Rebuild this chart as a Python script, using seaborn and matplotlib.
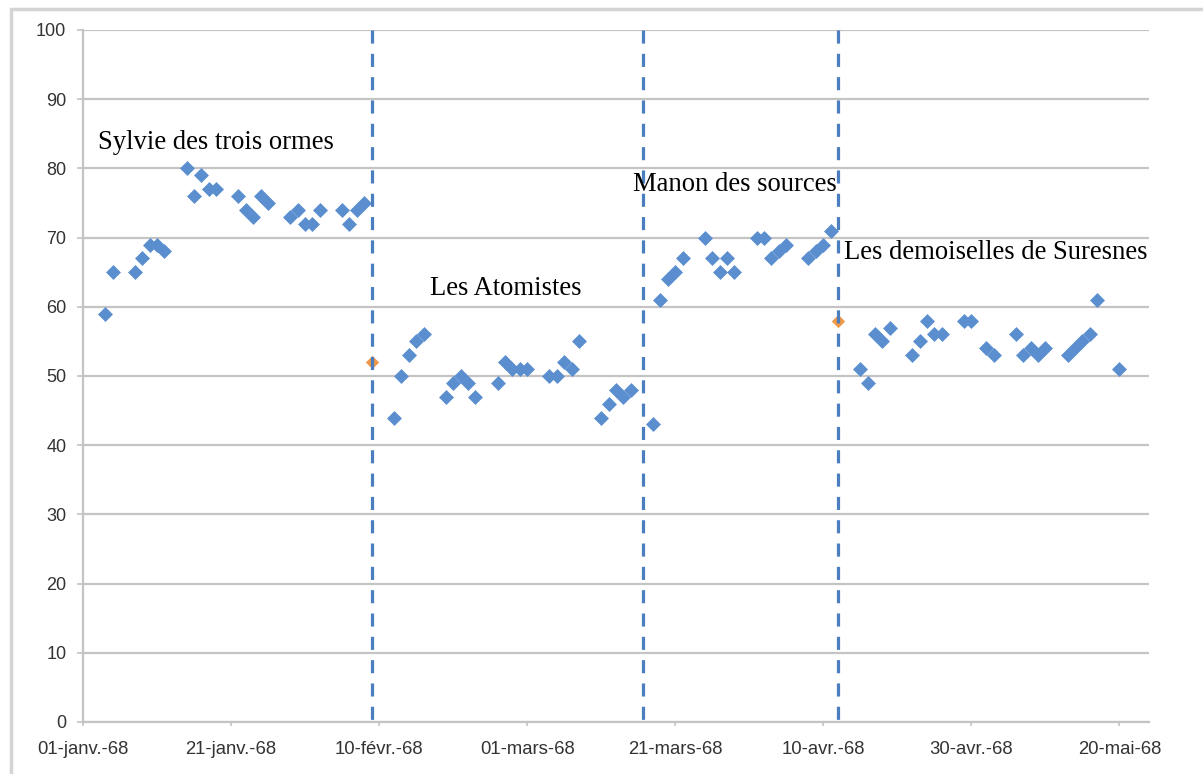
import pandas as pd
import numpy as np
import matplotlib
matplotlib.use('Agg')
import matplotlib.pyplot as plt
import seaborn as sns
from matplotlib.patches import Rectangle

# daily scores per film (weekdays)
sylvie_dates = ['1968-01-04', '1968-01-05', '1968-01-08', '1968-01-09', '1968-01-10', '1968-01-11',
                '1968-01-12', '1968-01-15', '1968-01-16', '1968-01-17', '1968-01-18', '1968-01-19',
                '1968-01-22', '1968-01-23', '1968-01-24', '1968-01-25', '1968-01-26', '1968-01-29',
                '1968-01-30', '1968-01-31', '1968-02-01', '1968-02-02', '1968-02-05', '1968-02-06',
                '1968-02-07', '1968-02-08']
sylvie_scores = [59, 65, 65, 67, 69, 69, 68, 80, 76, 79, 77, 77, 76, 74, 73, 76, 75, 73, 74, 72,
                 72, 74, 74, 72, 74, 75]

atomistes_dates = ['1968-02-12', '1968-02-13', '1968-02-14', '1968-02-15', '1968-02-16', '1968-02-19',
                   '1968-02-20', '1968-02-21', '1968-02-22', '1968-02-23', '1968-02-26', '1968-02-27',
                   '1968-02-28', '1968-02-29', '1968-03-01', '1968-03-04', '1968-03-05', '1968-03-06',
                   '1968-03-07', '1968-03-08', '1968-03-11', '1968-03-12', '1968-03-13', '1968-03-14',
                   '1968-03-15']
atomistes_scores = [44, 50, 53, 55, 56, 47, 49, 50, 49, 47, 49, 52, 51, 51, 51, 50, 50, 52, 51, 55,
                    44, 46, 48, 47, 48]

manon_dates = ['1968-03-18', '1968-03-19', '1968-03-20', '1968-03-21', '1968-03-22', '1968-03-25',
               '1968-03-26', '1968-03-27', '1968-03-28', '1968-03-29', '1968-04-01', '1968-04-02',
               '1968-04-03', '1968-04-04', '1968-04-05', '1968-04-08', '1968-04-09', '1968-04-10',
               '1968-04-11']
manon_scores = [43, 61, 64, 65, 67, 70, 67, 65, 67, 65, 70, 70, 67, 68, 69, 67, 68, 69, 71]

demoiselles_dates = ['1968-04-15', '1968-04-16', '1968-04-17', '1968-04-18', '1968-04-19', '1968-04-22',
                     '1968-04-23', '1968-04-24', '1968-04-25', '1968-04-26', '1968-04-29', '1968-04-30',
                     '1968-05-02', '1968-05-03', '1968-05-06', '1968-05-07', '1968-05-08', '1968-05-09',
                     '1968-05-10', '1968-05-13', '1968-05-14', '1968-05-15', '1968-05-16', '1968-05-17',
                     '1968-05-20']
demoiselles_scores = [51, 49, 56, 55, 57, 53, 55, 58, 56, 56, 58, 58, 54, 53, 56, 53, 54, 53, 54,
                      53, 54, 55, 56, 61, 51]

# orange points sitting on the separators
switch_dates = ['1968-02-09', '1968-04-12']
switch_scores = [52, 58]

separator_dates = ['1968-02-09', '1968-03-16 16:00', '1968-04-12']

film_names = ['Sylvie des trois ormes', 'Les Atomistes', 'Manon des sources',
              'Les demoiselles de Suresnes']
label_dates = ['1968-01-03', '1968-02-16 22:00', '1968-03-15 08:00', '1968-04-12 19:00']
label_scores = [83.7, 62.7, 77.7, 67.9]

tick_dates = ['1968-01-01', '1968-01-21', '1968-02-10', '1968-03-01', '1968-03-21',
              '1968-04-10', '1968-04-30', '1968-05-20']
tick_labels = ['01-janv.-68', '21-janv.-68', '10-févr.-68', '01-mars-68', '21-mars-68',
               '10-avr.-68', '30-avr.-68', '20-mai-68']

frames = []
for name, d, v in zip(film_names,
                      [sylvie_dates, atomistes_dates, manon_dates, demoiselles_dates],
                      [sylvie_scores, atomistes_scores, manon_scores, demoiselles_scores]):
    frames.append(pd.DataFrame({'Date': pd.to_datetime(d), 'Score': v, 'Film': name}))
df = pd.concat(frames, ignore_index=True)
df_switch = pd.DataFrame({'Date': pd.to_datetime(switch_dates), 'Score': switch_scores})

BLUE = '#5B8ECF'
LINE_BLUE = '#4A7EBF'
ORANGE = '#EE9848'
GRID = '#C4C4C4'

sns.set_style('white')
plt.rcParams['font.family'] = ['Liberation Sans', 'DejaVu Sans']

fig = plt.figure(figsize=(12.03, 7.74), dpi=100)
ax = fig.add_axes([83 / 1203, 1 - 722 / 774, (1149 - 83) / 1203, (722 - 30) / 774])

# outer chart frame (only left/top visible)
fig.patches.append(Rectangle((11 / 1203, -0.1), 1.2, 1 - 9 / 774 + 0.1, transform=fig.transFigure,
                             fill=False, edgecolor='#D4D4D4', linewidth=2.5))

sns.scatterplot(data=df, x='Date', y='Score', color=BLUE, marker='D', s=58, linewidth=0,
                ax=ax, zorder=3, legend=False)
sns.scatterplot(data=df_switch, x='Date', y='Score', color=ORANGE, marker='D', s=46, linewidth=0,
                ax=ax, zorder=3, legend=False)

for d in separator_dates:
    ax.axvline(pd.Timestamp(d), ymin=1, ymax=0, color=LINE_BLUE, linewidth=2.3,
               linestyle=(0, (4.1, 3.2)), zorder=4)

for name, d, v in zip(film_names, label_dates, label_scores):
    ax.text(pd.Timestamp(d), v, name, fontsize=19.2, family='Liberation Serif', color='black',
            ha='left', va='center', zorder=5)

start = pd.Timestamp('1968-01-01')
ax.set_xlim(start, start + pd.Timedelta(days=144))
ax.set_ylim(0, 100)
ax.set_yticks(range(0, 101, 10))
ax.set_xticks(pd.to_datetime(tick_dates))
ax.set_xticklabels(tick_labels)
ax.set_xlabel('')
ax.set_ylabel('')

ax.grid(axis='y', color=GRID, linewidth=1.6)
ax.grid(axis='x', visible=False)
ax.set_axisbelow(True)
for side in ['top', 'right']:
    ax.spines[side].set_visible(False)
for side in ['left', 'bottom']:
    ax.spines[side].set_color(GRID)
    ax.spines[side].set_linewidth(1.6)

ax.tick_params(axis='y', which='major', left=True, length=4, width=1.2, color=GRID,
               labelsize=13, labelcolor='#333333', pad=8)
ax.tick_params(axis='x', which='major', bottom=True, length=3, width=1.2, color=GRID,
               labelsize=13.3, labelcolor='#333333', pad=11)

fig.savefig('out.png', dpi=100)
